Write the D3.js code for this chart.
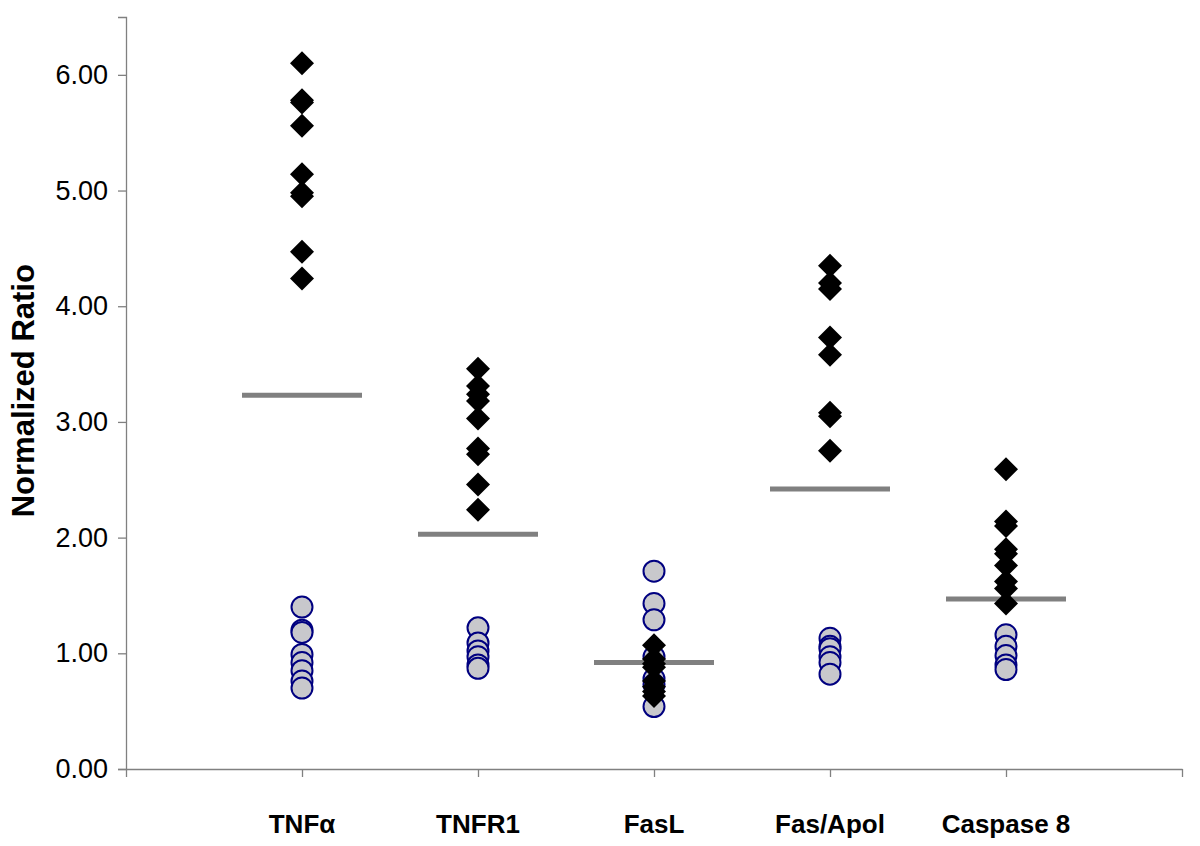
<!DOCTYPE html>
<html>
<head>
<meta charset="utf-8">
<script src="https://cdn.jsdelivr.net/npm/d3@7"></script>
<style>
  body { margin: 0; background: #fff; }
  svg { display: block; }
</style>
</head>
<body>
<div id="wrapper"></div>
<script>
// categories along the x axis
const categories = ["TNF\u03b1", "TNFR1", "FasL", "Fas/Apol", "Caspase 8"];

// black diamonds (upper group) per category
const diamondValues = [
    [6.10, 5.78, 5.76, 5.56, 5.14, 4.98, 4.95, 4.47, 4.24],
    [3.46, 3.31, 3.24, 3.18, 3.03, 2.77, 2.72, 2.46, 2.24],
    [1.07, 0.95, 0.91, 0.88, 0.76, 0.71, 0.67, 0.63],
    [4.35, 4.20, 4.15, 3.73, 3.58, 3.08, 3.05, 2.75],
    [2.59, 2.14, 2.10, 1.90, 1.86, 1.76, 1.62, 1.56, 1.43]
];

// grey circles (lower group) per category
const circleValues = [
    [1.40, 1.20, 1.18, 0.99, 0.92, 0.85, 0.76, 0.70],
    [1.22, 1.09, 1.02, 0.97, 0.90, 0.87],
    [1.71, 1.43, 1.29, 0.97, 0.78, 0.73, 0.54],
    [1.13, 1.06, 1.04, 0.97, 0.92, 0.82],
    [1.16, 1.06, 0.98, 0.90, 0.86]
];

// grey horizontal cut-off bars
const meanValues = [3.23, 2.03, 0.92, 2.42, 1.47];

const yTicks = [0, 1, 2, 3, 4, 5, 6];

let dimensions = {
    width: 1200,
    height: 846,
    margin: { top: 17, right: 18, bottom: 77, left: 126 }
};
dimensions.boundedWidth = dimensions.width - dimensions.margin.left - dimensions.margin.right;
dimensions.boundedHeight = dimensions.height - dimensions.margin.top - dimensions.margin.bottom;

const wrapper = d3.select("#wrapper")
    .append("svg")
    .attr("width", dimensions.width)
    .attr("height", dimensions.height);

const bounds = wrapper.append("g")
    .attr("transform", `translate(${dimensions.margin.left},${dimensions.margin.top})`);

const xScale = d3.scaleLinear()
    .domain([0, categories.length + 1])
    .range([0, dimensions.boundedWidth]);

const yScale = d3.scaleLinear()
    .domain([0, 6.5])
    .range([dimensions.boundedHeight, 0]);

const axisColor = "#808080";
const font = "Liberation Sans, Arial, sans-serif";

// y axis
const yAxis = bounds.append("g")
    .call(d3.axisLeft(yScale).tickValues(yTicks).tickFormat(d3.format(".2f")).tickSize(8).tickPadding(10));
yAxis.select(".domain").attr("stroke", axisColor).attr("stroke-width", 1.3);
yAxis.selectAll(".tick line").attr("stroke", axisColor).attr("stroke-width", 1.3);
yAxis.selectAll(".tick text")
    .attr("fill", "#000")
    .style("font-family", font)
    .style("font-size", "27px");

// x axis
const xAxis = bounds.append("g")
    .attr("transform", `translate(0,${dimensions.boundedHeight})`)
    .call(d3.axisBottom(xScale).tickValues(d3.range(0, categories.length + 2)).tickFormat("").tickSize(8).tickSizeOuter(0));
xAxis.select(".domain").attr("stroke", axisColor).attr("stroke-width", 1.3);
xAxis.selectAll(".tick line").attr("stroke", axisColor).attr("stroke-width", 1.3);

// category labels
bounds.append("g").selectAll("text")
    .data(categories)
    .join("text")
    .attr("x", (d, i) => xScale(i + 1))
    .attr("y", dimensions.boundedHeight + 64)
    .attr("text-anchor", "middle")
    .style("font-family", font)
    .style("font-weight", "bold")
    .style("font-size", "26px")
    .text(d => d);

// y title
wrapper.append("text")
    .attr("transform", `translate(34,${dimensions.margin.top + yScale(3.27)}) rotate(-90)`)
    .attr("text-anchor", "middle")
    .style("font-family", font)
    .style("font-weight", "bold")
    .style("font-size", "31px")
    .text("Normalized Ratio");

// circles
const circleData = circleValues.flatMap((vals, i) => vals.map(v => ({ cat: i, value: v })));
bounds.append("g").selectAll("circle")
    .data(circleData)
    .join("circle")
    .attr("cx", d => xScale(d.cat + 1))
    .attr("cy", d => yScale(d.value))
    .attr("r", 10.5)
    .attr("fill", "#c8c8cc")
    .attr("stroke", "#000080")
    .attr("stroke-width", 2);

// mean bars
bounds.append("g").selectAll("line")
    .data(meanValues)
    .join("line")
    .attr("x1", (d, i) => xScale(i + 1) - 60)
    .attr("x2", (d, i) => xScale(i + 1) + 60)
    .attr("y1", d => yScale(d))
    .attr("y2", d => yScale(d))
    .attr("stroke", "#808080")
    .attr("stroke-width", 5);

// diamonds
const diamondData = diamondValues.flatMap((vals, i) => vals.map(v => ({ cat: i, value: v })));
const diamondPath = d3.symbol().type(d3.symbolSquare).size(288);
bounds.append("g").selectAll("path")
    .data(diamondData)
    .join("path")
    .attr("d", diamondPath)
    .attr("transform", d => `translate(${xScale(d.cat + 1)},${yScale(d.value)}) rotate(45)`)
    .attr("fill", "#000");
</script>
</body>
</html>
